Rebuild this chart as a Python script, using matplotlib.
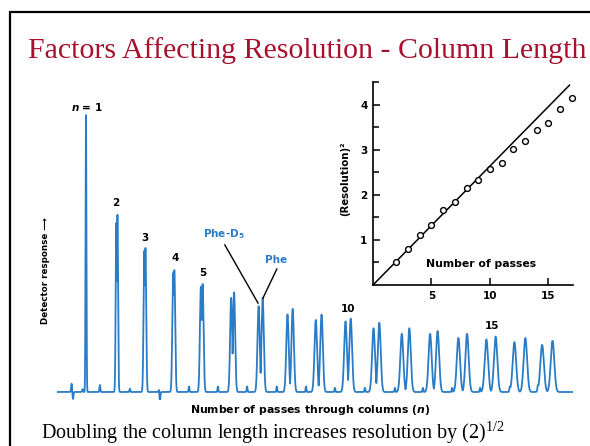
import numpy as np
import matplotlib
matplotlib.use("Agg")
import matplotlib.pyplot as plt
from matplotlib.patches import Rectangle

# chromatogram peaks (x in passes, height in % of the n = 1 peak)
passes = list(range(1, 18))
d5_pos = [1.00, 2.05, 3.02, 4.02, 4.98, 6.03, 6.98, 7.98, 8.96, 9.99, 10.96, 11.94, 12.92, 13.90, 14.87, 15.84, 16.80]
phe_pos = [1.00, 2.09, 3.06, 4.06, 5.04, 6.13, 7.12, 8.16, 9.16, 10.17, 11.16, 12.20, 13.18, 14.20, 15.19, 16.22, 17.16]
d5_h = [100, 61, 51, 43, 38, 34, 31, 28, 26, 25.5, 23, 21, 21, 19.5, 19, 18, 17]
phe_h = [100, 64, 52, 44, 39, 36, 34, 30, 28, 26.5, 25, 23, 22, 21, 20, 19.5, 18.5]

# little baseline blips and glitches
blip_pos = [0.50, 0.55, 0.88, 1.48, 2.52, 3.53, 3.56, 4.57, 5.57, 6.58, 7.61, 8.62,
            9.62, 10.66, 11.70, 12.67, 13.68, 14.65, 15.68, 16.65]
blip_h = [3.0, -2.5, 1.0, 2.5, 1.2, 1.0, -3.6, 2.0, 2.0, 2.0, 2.0, 2.0,
          1.5, 1.5, 1.5, 1.5, 1.5, 1.5, 1.5, 1.5]

# inset: (resolution)^2 vs number of passes
res_n = [2, 3, 4, 5, 6, 7, 8, 9, 10, 11, 12, 13, 14, 15, 16, 17]
res_sq = [0.50, 0.79, 1.10, 1.33, 1.67, 1.85, 2.15, 2.33, 2.57, 2.70, 3.02, 3.20, 3.44, 3.59, 3.90, 4.15]
fit_n = [0, 16.8]
fit_res = [0, 4.44]

W, H = 590, 446
BLUE = '#2a7cc6'
RED = '#a8102e'

plt.rcParams['mathtext.fontset'] = 'custom'
plt.rcParams['mathtext.rm'] = 'Liberation Serif'
plt.rcParams['mathtext.it'] = 'DejaVu Sans:italic:bold'
plt.rcParams['mathtext.sf'] = 'DejaVu Sans:bold'


def px_axes(fig, x0, y0, x1, y1):
    return fig.add_axes([x0 / W, 1 - y1 / H, (x1 - x0) / W, (y1 - y0) / H])


fig = plt.figure(figsize=(W / 100, H / 100), dpi=100)
fig.patch.set_facecolor('white')

# slide frame
fig.add_artist(Rectangle((10 / W, -0.1), 1.2, 1.1 - 12 / H, fill=False, lw=1.6,
                         edgecolor='black', transform=fig.transFigure))

fig.text(28 / W, 1 - 58 / H, 'Factors Affecting Resolution - Column Length',
         family='Liberation Serif', fontsize=21.5, color=RED, va='baseline', ha='left')
fig.text(41 / W, 1 - 439 / H, r'Doubling the column length increases resolution by (2)$^{\mathrm{1/2}}$',
         family='Liberation Serif', fontsize=14.5, color='black', va='baseline', ha='left')

# chromatogram
ax = px_axes(fig, 57, 104, 573, 400)
x = np.linspace(-0.004, 17.87, 30000)
sig0 = 0.015
sig = np.array([sig0 * np.sqrt(n) for n in passes])
peaks = np.zeros_like(x)
for p, h, s in zip(d5_pos + phe_pos, d5_h + phe_h, np.concatenate([sig, sig])):
    peaks = np.maximum(peaks, h * np.exp(-0.5 * ((x - p) / s) ** 2))
for p, h in zip(blip_pos, blip_h):
    peaks = peaks + h * np.exp(-0.5 * ((x - p) / 0.015) ** 2)
ax.plot(x, peaks, color=BLUE, lw=1.3)
ax.set_xlim(-0.004, 17.87)
ax.set_ylim(-2.89, 104.0)
ax.axis('off')

lab = dict(fontsize=7.5, fontweight='bold', ha='center', va='center', family='DejaVu Sans')
ax.text(1.03, 103, r'$n$ = 1', **lab)
for t, xx, yy in [('2', 2.04, 68.2), ('3', 3.04, 55.6), ('4', 4.08, 48.4), ('5', 5.05, 43.0),
                  ('10', 10.07, 30.0), ('15', 15.06, 23.8)]:
    ax.text(xx, yy, t, **lab)
ax.text(5.78, 57.0, r'Phe-D$_{\mathsf{5}}$', color=BLUE, **lab)
ax.text(7.58, 47.7, 'Phe', color=BLUE, **lab)
ax.plot([5.81, 6.96], [53.1, 32.1], color='black', lw=1.0)
ax.plot([7.61, 7.13], [44.4, 33.9], color='black', lw=1.0)

fig.text(45 / W, 1 - 271 / H, 'Detector response \u27f6', rotation=90, fontsize=6.3,
         fontweight='bold', ha='center', va='center')
fig.text(310 / W, 1 - 410 / H, r'Number of passes through columns ($n$)', fontsize=7.8,
         fontweight='bold', ha='center', va='center')

# inset
ins = px_axes(fig, 373, 82, 573, 285)
ins.patch.set_alpha(0)
ins.plot(fit_n, fit_res, color='black', lw=1.1)
ins.plot(res_n, res_sq, 'o', mfc='white', mec='black', ms=4.2, mew=1.0, clip_on=False)
ins.set_xlim(0, 17.1)
ins.set_ylim(0, 4.51)
for s in ['top', 'right']:
    ins.spines[s].set_visible(False)
for s in ['left', 'bottom']:
    ins.spines[s].set_linewidth(1.2)
ins.set_xticks([5, 10, 15])
ins.set_yticks([1, 2, 3, 4])
ins.set_yticks([0.5, 1.5, 2.5, 3.5, 4.5], minor=True)
ins.tick_params(direction='in', length=5, width=1.1, labelsize=7.5, pad=4)
ins.tick_params(which='minor', direction='in', length=4, width=1.1)
for t in ins.get_xticklabels() + ins.get_yticklabels():
    t.set_fontweight('bold')
ins.text(9.2, 0.47, 'Number of passes', fontsize=7.8, fontweight='bold', ha='center', va='center')
fig.text(345 / W, 1 - 179 / H, '(Resolution)\u00b2', rotation=90, fontsize=7.3,
         fontweight='bold', ha='center', va='center')

fig.savefig('out.png', dpi=100)
